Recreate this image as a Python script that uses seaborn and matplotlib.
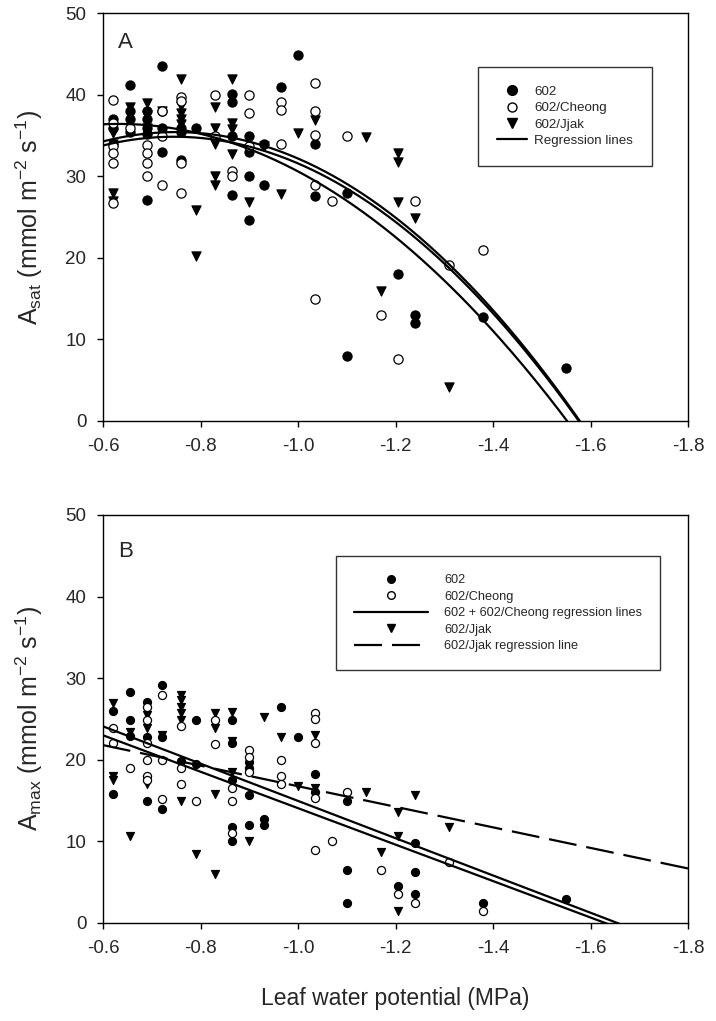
import numpy as np
import seaborn as sns
import matplotlib.pyplot as plt
from matplotlib.lines import Line2D

sns.set_theme(style='white')
plt.rcParams['font.family'] = ['Liberation Sans', 'DejaVu Sans']
plt.rcParams['mathtext.fontset'] = 'custom'
plt.rcParams['mathtext.rm'] = 'Liberation Sans'
plt.rcParams['mathtext.it'] = 'Liberation Sans:italic'

# ---- panel A : Asat ----
a_602_x = [-0.62, -0.62, -0.62, -0.655, -0.655, -0.655, -0.655,
           -0.69, -0.69, -0.69, -0.69, -0.69, -0.72, -0.72, -0.72, -0.72,
           -0.76, -0.76, -0.76, -0.79, -0.865, -0.865, -0.865, -0.865,
           -0.90, -0.90, -0.90, -0.90, -0.93, -0.93, -0.965, -1.0,
           -1.035, -1.035, -1.10, -1.10, -1.205, -1.24, -1.24, -1.38, -1.55]
a_602_y = [37.0, 36.0, 34.0, 41.2, 38.0, 37.0, 35.5,
           38.0, 37.0, 36.0, 35.2, 27.1, 43.5, 38.0, 36.0, 33.0,
           36.0, 35.5, 32.0, 36.0, 40.1, 39.1, 35.0, 27.7,
           35.0, 33.0, 30.0, 24.7, 34.0, 29.0, 41.0, 44.9,
           34.0, 27.6, 28.0, 8.0, 18.0, 13.0, 12.0, 12.8, 6.5]

a_cheong_x = [-0.62, -0.62, -0.62, -0.62, -0.62, -0.62, -0.655,
              -0.69, -0.69, -0.69, -0.69, -0.72, -0.72, -0.72,
              -0.76, -0.76, -0.76, -0.76, -0.83, -0.83, -0.865, -0.865,
              -0.90, -0.90, -0.90, -0.965, -0.965, -0.965,
              -1.035, -1.035, -1.035, -1.035, -1.035, -1.07, -1.10,
              -1.17, -1.205, -1.24, -1.31, -1.38]
a_cheong_y = [39.4, 36.6, 33.7, 32.9, 31.7, 26.7, 36.0,
              33.9, 32.9, 31.6, 30.1, 38.0, 35.0, 28.9,
              39.8, 39.3, 31.7, 28.0, 40.0, 35.0, 30.7, 30.1,
              40.0, 37.8, 33.7, 39.1, 38.2, 34.0,
              41.5, 38.0, 35.1, 28.9, 15.0, 27.0, 35.0,
              13.0, 7.6, 27.0, 19.1, 21.0]

a_jjak_x = [-0.62, -0.62, -0.62, -0.62, -0.655, -0.69, -0.69, -0.69, -0.72,
            -0.76, -0.76, -0.76, -0.76, -0.76, -0.79, -0.79,
            -0.83, -0.83, -0.83, -0.83, -0.83, -0.865, -0.865, -0.865, -0.865,
            -0.90, -0.93, -0.965, -1.0, -1.035, -1.14, -1.17,
            -1.205, -1.205, -1.205, -1.24, -1.31]
a_jjak_y = [35.3, 34.0, 28.0, 27.0, 38.5, 39.0, 37.5, 36.0, 38.0,
            41.9, 38.6, 37.8, 37.0, 36.4, 25.9, 20.2,
            38.5, 35.9, 34.0, 30.0, 29.0, 41.9, 36.6, 35.8, 32.8,
            26.9, 33.7, 27.9, 35.3, 36.9, 34.9, 15.9,
            32.9, 31.8, 26.9, 24.9, 4.2]

# quadratic regression coefficients (highest power first)
a_fit_602 = [-43.09, -54.49, 19.22]
a_fit_cheong = [-50.57, -75.40, 6.77]
a_fit_jjak = [-51.60, -77.31, 6.49]

# ---- panel B : Amax ----
b_602_x = [-0.62, -0.62, -0.655, -0.655, -0.655, -0.69, -0.69, -0.69,
           -0.72, -0.72, -0.72, -0.76, -0.79, -0.79,
           -0.865, -0.865, -0.865, -0.865, -0.865, -0.90, -0.90, -0.90, -0.90,
           -0.93, -0.93, -0.965, -1.0, -1.035, -1.035, -1.10, -1.10, -1.10,
           -1.205, -1.24, -1.24, -1.24, -1.38, -1.55]
b_602_y = [26.0, 15.8, 28.3, 24.9, 22.9, 27.1, 22.8, 15.0,
           29.2, 22.8, 14.0, 19.8, 24.9, 19.5,
           24.9, 22.1, 17.5, 11.8, 10.0, 19.7, 19.0, 15.7, 12.0,
           12.8, 12.0, 26.5, 22.8, 18.3, 16.0, 15.0, 6.5, 2.5,
           4.5, 9.8, 6.3, 3.5, 2.5, 3.0]

b_cheong_x = [-0.62, -0.62, -0.655, -0.69, -0.69, -0.69, -0.69, -0.69, -0.69,
              -0.72, -0.72, -0.72, -0.76, -0.76, -0.76, -0.79, -0.83, -0.83,
              -0.865, -0.865, -0.865, -0.90, -0.90, -0.90, -0.965, -0.965, -0.965,
              -1.035, -1.035, -1.035, -1.035, -1.035, -1.07, -1.10,
              -1.17, -1.205, -1.24, -1.31, -1.38]
b_cheong_y = [23.9, 22.1, 19.0, 26.5, 24.9, 22.0, 20.0, 18.0, 17.5,
              27.9, 20.0, 15.2, 24.1, 19.0, 17.0, 15.0, 24.9, 21.9,
              16.5, 15.0, 11.0, 21.2, 20.4, 18.5, 20.0, 18.0, 17.0,
              25.7, 25.0, 22.1, 15.3, 9.0, 10.0, 16.0,
              6.5, 3.5, 2.5, 7.5, 1.5]

b_jjak_x = [-0.62, -0.62, -0.62, -0.655, -0.655, -0.69, -0.69, -0.69, -0.72,
            -0.76, -0.76, -0.76, -0.76, -0.76, -0.76, -0.79,
            -0.83, -0.83, -0.83, -0.83, -0.865, -0.865, -0.865,
            -0.90, -0.93, -0.965, -1.0, -1.035, -1.035, -1.14, -1.17,
            -1.205, -1.205, -1.205, -1.24, -1.31]
b_jjak_y = [27.0, 18.0, 17.5, 23.4, 10.7, 25.5, 23.9, 17.0, 23.0,
            27.9, 27.3, 26.5, 25.7, 24.9, 15.0, 8.5,
            25.7, 23.9, 15.8, 6.0, 25.9, 22.3, 18.5,
            10.0, 25.3, 22.8, 16.8, 23.0, 16.5, 16.0, 8.7,
            13.6, 10.7, 1.5, 15.7, 11.8]

# linear regression coefficients (slope, intercept)
b_fit_pooled_1 = [22.84, 37.80]
b_fit_pooled_2 = [22.33, 36.40]
b_fit_jjak = [12.60, 29.36]

x_ticks = [-0.6, -0.8, -1.0, -1.2, -1.4, -1.6, -1.8]
x_tick_labels = ['-0.6', '-0.8', '-1.0', '-1.2', '-1.4', '-1.6', '-1.8']
y_ticks = [0, 10, 20, 30, 40, 50]

dash = (0, (12.6, 4.5))
lw = 1.6
xs = np.linspace(-0.6, -1.8, 300)

fig = plt.figure(figsize=(7.16, 10.21), dpi=100)
axA = fig.add_axes([0.1439, 0.5877, 0.8170, 0.3991])
axB = fig.add_axes([0.1439, 0.0960, 0.8170, 0.3996])


def style_axes(ax):
    ax.set_xlim(-0.6, -1.8)
    ax.set_ylim(0, 50)
    ax.set_xticks(x_ticks)
    ax.set_xticklabels(x_tick_labels)
    ax.set_yticks(y_ticks)
    for s in ax.spines.values():
        s.set_color('black')
        s.set_linewidth(1.0)
        s.set_visible(True)
    ax.tick_params(axis='both', direction='out', length=4, width=1.0,
                   color='black', labelsize=13.5, pad=8, bottom=True, left=True,
                   top=False, right=False)
    ax.set_xlabel('')


def scatter_three(ax, x1, y1, x2, y2, x3, y3, size):
    sns.scatterplot(x=x1, y=y1, ax=ax, marker='o', s=size, color='black',
                    edgecolor='black', linewidth=0.8, zorder=3)
    sns.scatterplot(x=x3, y=y3, ax=ax, marker='v', s=size, color='black',
                    edgecolor='black', linewidth=0.8, zorder=3)
    sns.scatterplot(x=x2, y=y2, ax=ax, marker='o', s=size, color='white',
                    edgecolor='black', linewidth=0.9, zorder=4)


# panel A
scatter_three(axA, a_602_x, a_602_y, a_cheong_x, a_cheong_y,
              a_jjak_x, a_jjak_y, 44)
for coef in [a_fit_602, a_fit_cheong, a_fit_jjak]:
    sns.lineplot(x=xs, y=np.polyval(coef, xs), ax=axA, color='black', lw=lw,
                 zorder=5)
style_axes(axA)
axA.set_ylabel(r'A$_{\mathrm{sat}}$ (mmol m$^{-2}$ s$^{-1}$)', fontsize=18)
axA.yaxis.set_label_coords(-0.1, 0.5)
axA.text(0.025, 0.93, 'A', transform=axA.transAxes, fontsize=16,
         va='center', ha='left')

hA = [Line2D([], [], ls='none', marker='o', color='black', markersize=7),
      Line2D([], [], ls='none', marker='o', mfc='white', mec='black', markersize=6.5),
      Line2D([], [], ls='none', marker='v', color='black', markersize=6.5),
      Line2D([], [], color='black', lw=lw)]
legA = axA.legend(hA, ['602', '602/Cheong', '602/Jjak', 'Regression lines'],
                  loc='upper left', bbox_to_anchor=(0.641, 0.869), fontsize=9.6,
                  frameon=True, fancybox=False, edgecolor='black',
                  borderpad=1.4, handlelength=2.3, handletextpad=0.5,
                  labelspacing=0.3, borderaxespad=0)
legA.get_frame().set_linewidth(1.0)

# panel B
scatter_three(axB, b_602_x, b_602_y, b_cheong_x, b_cheong_y,
              b_jjak_x, b_jjak_y, 34)
for coef in [b_fit_pooled_1, b_fit_pooled_2]:
    sns.lineplot(x=xs, y=np.polyval(coef, xs), ax=axB, color='black', lw=lw,
                 zorder=5)
sns.lineplot(x=xs, y=np.polyval(b_fit_jjak, xs), ax=axB, color='black', lw=lw,
             linestyle=dash, zorder=5)
style_axes(axB)
axB.set_ylabel(r'A$_{\mathrm{max}}$ (mmol m$^{-2}$ s$^{-1}$)', fontsize=18)
axB.yaxis.set_label_coords(-0.1, 0.5)
axB.set_xlabel('Leaf water potential (MPa)', fontsize=16.5, labelpad=22)
axB.text(0.025, 0.91, 'B', transform=axB.transAxes, fontsize=16,
         va='center', ha='left')

hB = [Line2D([], [], ls='none', marker='o', color='black', markersize=5.5),
      Line2D([], [], ls='none', marker='o', mfc='white', mec='black', markersize=5.5),
      Line2D([], [], color='black', lw=lw),
      Line2D([], [], ls='none', marker='v', color='black', markersize=5.5),
      Line2D([], [], color='black', lw=lw, linestyle=dash)]
legB = axB.legend(hB, ['602', '602/Cheong', '602 + 602/Cheong regression lines',
                       '602/Jjak', '602/Jjak regression line'],
                  loc='upper left', bbox_to_anchor=(0.398, 0.899), fontsize=9.2,
                  frameon=True, fancybox=False, edgecolor='black',
                  borderpad=1.4, handlelength=5.8, handletextpad=1.3,
                  labelspacing=0.35, borderaxespad=0)
legB.get_frame().set_linewidth(1.0)

fig.savefig('out.png', dpi=100)
